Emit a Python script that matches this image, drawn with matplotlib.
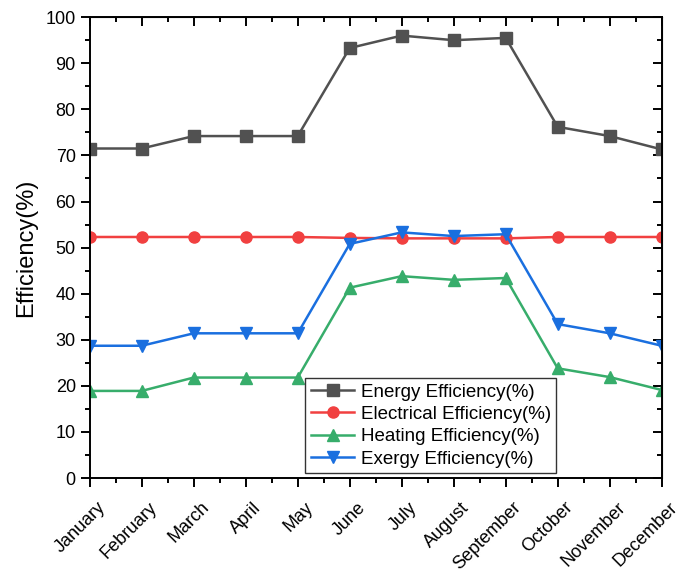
import numpy as np
import matplotlib
matplotlib.use("Agg")
import matplotlib.pyplot as plt
import matplotlib.transforms as mtransforms
from matplotlib.ticker import MultipleLocator

plt.rcParams['font.family'] = ['Liberation Sans', 'DejaVu Sans']

months = ["January", "February", "March", "April", "May", "June", "July",
          "August", "September", "October", "November", "December"]
energy = [71.5, 71.5, 74.2, 74.2, 74.2, 93.3, 96.0, 95.0, 95.5, 76.2, 74.2, 71.3]
electrical = [52.3, 52.3, 52.3, 52.3, 52.3, 52.1, 52.0, 52.0, 52.0, 52.3, 52.3, 52.3]
heating = [18.9, 18.9, 21.8, 21.8, 21.8, 41.3, 43.8, 43.0, 43.4, 23.8, 21.9, 19.1]
exergy = [28.7, 28.7, 31.4, 31.4, 31.4, 50.8, 53.3, 52.5, 52.9, 33.4, 31.4, 28.7]

x = np.arange(len(months))

fig = plt.figure(figsize=(6.85, 5.72), dpi=100)
ax = fig.add_axes([0.131, 0.1643, 0.835, 0.8057])

ax.plot(x, energy, color='#515151', marker='s', ms=8, lw=1.8, label='Energy Efficiency(%)')
ax.plot(x, electrical, color='#F14040', marker='o', ms=8, lw=1.8, label='Electrical Efficiency(%)')
ax.plot(x, heating, color='#37AD6B', marker='^', ms=9, lw=1.8, label='Heating Efficiency(%)')
ax.plot(x, exergy, color='#1A6FDF', marker='v', ms=9, lw=1.8, label='Exergy Efficiency(%)')

ax.set_xlim(0, 11)
ax.set_ylim(0, 100)
ax.set_xticks(x)
ax.set_xticklabels([])
# month labels, rotated 45 and hung a little right of / below each tick
shift = mtransforms.ScaledTranslation(5 / 72, -15 / 72, fig.dpi_scale_trans)
for i, m in enumerate(months):
    ax.text(x[i], 0, m, transform=ax.get_xaxis_transform() + shift,
            rotation=45, ha='right', va='top', rotation_mode='anchor', fontsize=13)
ax.xaxis.set_minor_locator(MultipleLocator(0.5))
ax.yaxis.set_major_locator(MultipleLocator(10))
ax.yaxis.set_minor_locator(MultipleLocator(5))
ax.tick_params(axis='y', labelsize=13)
ax.set_ylabel('Efficiency(%)', fontsize=17, labelpad=6)

for s in ax.spines.values():
    s.set_linewidth(1.4)
ax.tick_params(which='major', direction='out', length=6.5, width=1.4, top=False, right=False)
ax.tick_params(which='minor', direction='out', length=3.5, width=1.4)

# mirrored ticks on top/right pointing inward
ax2 = ax.secondary_xaxis('top')
ax2.set_xticks(x)
ax2.xaxis.set_minor_locator(MultipleLocator(0.5))
ax2.tick_params(which='major', direction='in', length=6.5, width=1.4, labeltop=False)
ax2.tick_params(which='minor', direction='in', length=3.5, width=1.4)
ax3 = ax.secondary_yaxis('right')
ax3.yaxis.set_major_locator(MultipleLocator(10))
ax3.yaxis.set_minor_locator(MultipleLocator(5))
ax3.tick_params(which='major', direction='in', length=6.5, width=1.4, labelright=False)
ax3.tick_params(which='minor', direction='in', length=3.5, width=1.4)

leg = ax.legend(loc='lower left', bbox_to_anchor=(0.377, 0.01), fontsize=13.5,
                fancybox=False, framealpha=1, edgecolor='#333333',
                handlelength=2.3, borderpad=0.3, labelspacing=0.28,
                handletextpad=0.35, borderaxespad=0)
leg.get_frame().set_linewidth(1.0)

fig.savefig('out.png', dpi=100)
